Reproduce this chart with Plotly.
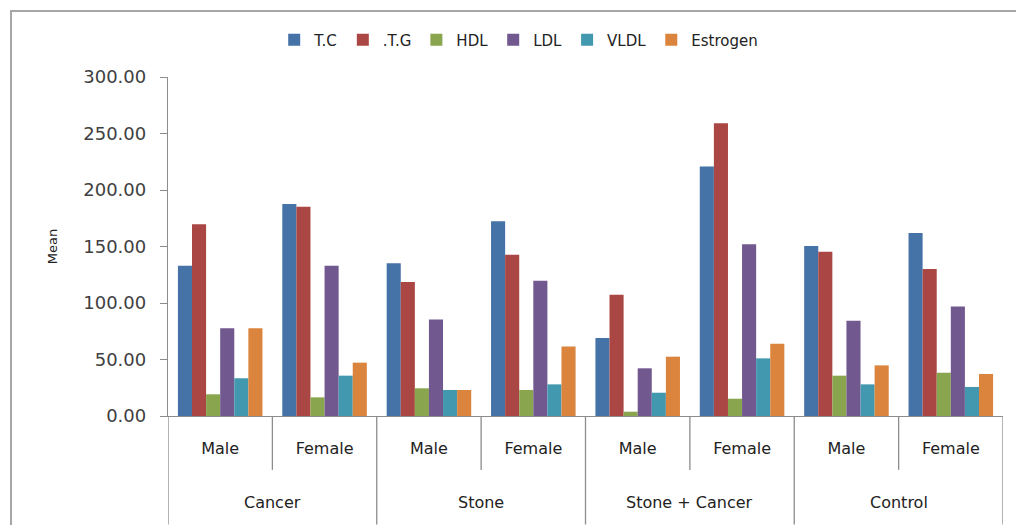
import plotly.graph_objects as go

# Groups and sexes along the category axis
groups = ["Cancer", "Cancer", "Stone", "Stone",
          "Stone + Cancer", "Stone + Cancer", "Control", "Control"]
sexes = ["Male", "Female", "Male", "Female", "Male", "Female", "Male", "Female"]

# Mean values per lipid / hormone parameter
tc = [133.0, 187.6, 135.1, 172.3, 69.0, 220.9, 150.4, 161.9]
tg = [169.6, 185.2, 118.6, 142.8, 107.4, 259.0, 145.4, 130.1]
hdl = [19.2, 16.5, 24.5, 23.0, 3.8, 15.3, 35.7, 38.3]
ldl = [77.6, 133.0, 85.5, 119.8, 42.2, 151.9, 84.4, 96.8]
vldl = [33.4, 35.7, 23.0, 28.0, 20.6, 51.0, 28.0, 25.7]
estrogen = [77.6, 47.2, 23.0, 61.4, 52.5, 64.0, 44.8, 37.2]

series_names = ["T.C", ".T.G", "HDL", "LDL", "VLDL", "Estrogen"]
series_values = [tc, tg, hdl, ldl, vldl, estrogen]
colors = ["#4572A7", "#AA4643", "#89A54E", "#71588F", "#4198AF", "#DB843D"]

y_ticks = [0, 50, 100, 150, 200, 250, 300]

# one slot per (group, sex) pair
positions = list(range(len(sexes)))

fig = go.Figure()
for name, vals, col in zip(series_names, series_values, colors):
    fig.add_trace(go.Bar(
        name=name,
        x=positions,
        y=vals,
        marker=dict(color=col, line=dict(width=0)),
    ))

axis_grey = "#8c8c8c"

# Divider lines below the category axis: short ones between sexes,
# long ones between groups (and at both ends)
n = len(sexes)
for i in range(n + 1):
    xb = i - 0.5
    long_line = (i % 2 == 0)
    fig.add_shape(
        type="line", xref="x", yref="paper",
        x0=xb, x1=xb, y0=0, y1=-0.32 if long_line else -0.159,
        line=dict(color=axis_grey, width=1.3),
        layer="below",
    )

# Group names centred under each pair of slots
group_names = []
for g in groups:
    if g not in group_names:
        group_names.append(g)
for g in group_names:
    idx = [i for i, gg in enumerate(groups) if gg == g]
    fig.add_annotation(
        x=sum(idx) / len(idx), xref="x", y=-0.2537, yref="paper",
        text=g, showarrow=False, yanchor="middle",
        font=dict(size=16, family="DejaVu Sans", color="#222222"),
    )

# Outer chart frame
fig.add_shape(
    type="rect", xref="paper", yref="paper",
    x0=-0.188, x1=2.0, y0=-1.0, y1=1.195,
    line=dict(color="#a6a6a6", width=2),
    fillcolor="rgba(0,0,0,0)",
)

fig.update_layout(
    width=1016, height=525,
    margin=dict(l=168, r=13, t=77, b=109),
    paper_bgcolor="white", plot_bgcolor="white",
    barmode="group",
    bargap=0.19,
    bargroupgap=0,
    font=dict(family="DejaVu Sans", color="#222222"),
    showlegend=True,
    legend=dict(
        orientation="h", x=0.42, xanchor="center", y=1.109, yanchor="middle",
        bgcolor="rgba(0,0,0,0)",
        font=dict(size=15, family="DejaVu Sans", color="#222222"),
        itemwidth=30, traceorder="normal",
    ),
    xaxis=dict(
        range=[-0.5, n - 0.5],
        tickvals=positions, ticktext=sexes,
        showline=True, linecolor=axis_grey, linewidth=1.3,
        ticks="", ticklabelstandoff=18,
        tickfont=dict(size=16, family="DejaVu Sans", color="#222222"),
        showgrid=False, zeroline=False,
    ),
    yaxis=dict(
        range=[0, 300], tickvals=y_ticks, tickformat=".2f",
        showline=True, linecolor=axis_grey, linewidth=1.3,
        ticks="outside", ticklen=7, tickcolor=axis_grey,
        tickfont=dict(size=18, family="DejaVu Sans", color="#404040"),
        ticklabelstandoff=10,
        showgrid=False, zeroline=False,
        title=dict(text="Mean", font=dict(size=13, family="DejaVu Sans", color="#222222"),
                   standoff=22),
    ),
)

fig.write_html("out.html")
